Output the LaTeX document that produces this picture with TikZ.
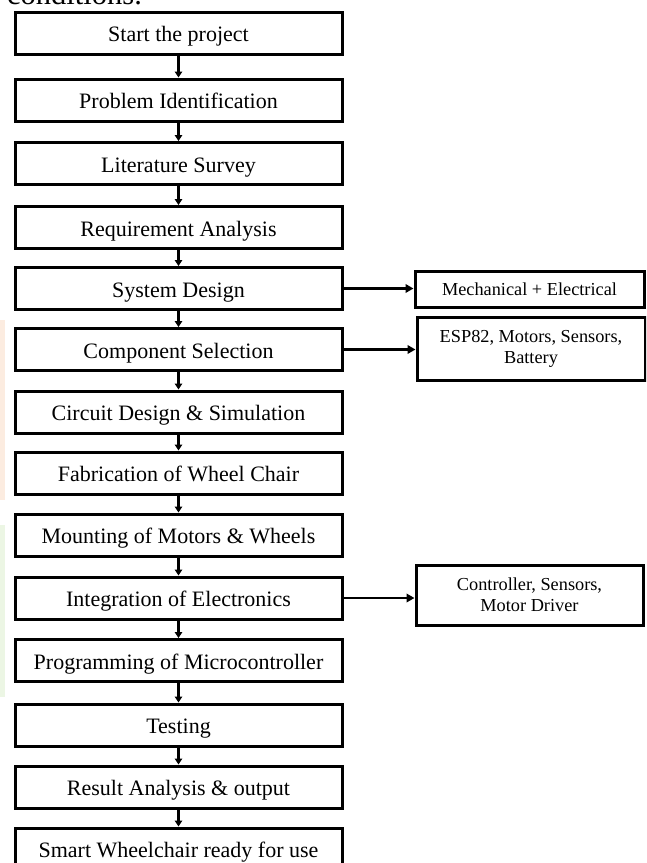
\documentclass[tikz,border=0pt]{standalone}
\usepackage{fontspec}
\setmainfont{Liberation Serif}
\usetikzlibrary{arrows.meta}
\definecolor{peach}{RGB}{252,236,224}
\definecolor{palegreen}{RGB}{236,246,228}
\tikzset{
  mainbox/.style={draw, line width=3pt, minimum width=327pt, minimum height=42pt, inner sep=0pt,
    text height=17pt, text depth=0pt,
    font=\fontsize{22}{24}\selectfont},
  sidebox/.style={draw, line width=3pt, inner sep=0pt, align=center,
    font=\fontsize{18.3}{21}\selectfont},
  arr/.style={line width=2.2pt, -{Triangle[length=6pt,width=7.5pt]}},
  sidearr/.style={line width=2.4pt, -{Triangle[length=8pt,width=8.5pt]}}
}
\begin{document}
\begin{tikzpicture}[x=1pt,y=-1pt]
\useasboundingbox (0,0) rectangle (646,863);
\clip (0,0) rectangle (646,863);
\fill[white] (0,0) rectangle (646,863);
% faint colour strips at left edge
\fill[peach] (0,320) rectangle (5,500);
\fill[palegreen] (0,525) rectangle (5,697);
% cut-off text line at top
\node[anchor=base west, inner sep=0pt, font=\fontsize{30.5}{34}\selectfont] (cond) at (7,4) {conditions.};

\node[mainbox] (n1)  at (178.5,33)   {Start the project};
\node[mainbox] (n2)  at (178.5,100)  {Problem Identification};
\node[mainbox] (n3)  at (178.5,163.5){Literature Survey};
\node[mainbox] (n4)  at (178.5,227.5){Requirement Analysis};
\node[mainbox] (n5)  at (178.5,288.5){System Design};
\node[mainbox] (n6)  at (178.5,349.5){Component Selection};
\node[mainbox] (n7)  at (178.5,412)  {Circuit Design \& Simulation};
\node[mainbox] (n8)  at (178.5,473)  {Fabrication of Wheel Chair};
\node[mainbox] (n9)  at (178.5,535)  {Mounting of Motors \& Wheels};
\node[mainbox] (n10) at (178.5,598)  {Integration of Electronics};
\node[mainbox] (n11) at (178.5,660.5){Programming of Microcontroller};
\node[mainbox] (n12) at (178.5,725)  {Testing};
\node[mainbox] (n13) at (178.5,787)  {Result Analysis \& output};
\node[mainbox] (n14) at (178.5,849)  {Smart Wheelchair ready for use};

\node[sidebox, minimum width=229pt, minimum height=36pt] (s1) at (529.5,289) {Mechanical + Electrical};
\node[sidebox, minimum width=228pt, minimum height=63pt] (s2) at (531,348.5) {ESP82, Motors, Sensors,\\Battery};
\node[sidebox, minimum width=227pt, minimum height=60pt] (s3) at (529.5,595) {Controller, Sensors,\\Motor Driver};

\foreach \a/\b in {n1/n2,n2/n3,n3/n4,n4/n5,n5/n6,n6/n7,n7/n8,n8/n9,n9/n10,n10/n11,n11/n12,n12/n13,n13/n14}
  \draw[arr] (\a.south) -- (\b.north);

\draw[sidearr] (n5.east) -- (n5.east -| s1.west);
\draw[sidearr] (n6.east) -- (n6.east -| s2.west);
\draw[sidearr] (n10.east) -- (n10.east -| s3.west);
\end{tikzpicture}
\end{document}
